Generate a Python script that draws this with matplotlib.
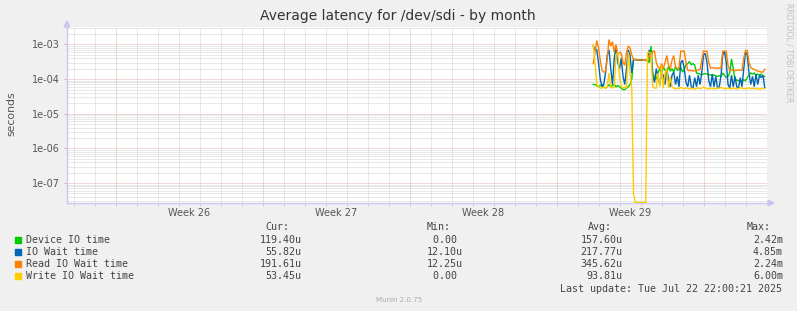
import matplotlib
matplotlib.use("Agg")
import matplotlib.pyplot as plt
from matplotlib.patches import Rectangle, Polygon
import numpy as np

# ---------------- data ----------------
# time in days from the left edge of the graph window
window_days = [0.0, 33.333]
week_starts = [2.333, 9.333, 16.333, 23.333, 30.333]
week_labels = ["Week 26", "Week 27", "Week 28", "Week 29"]
first_sample_day = 25.06
sample_step_days = 1.0 / 12.0  # 2 h consolidation

device_io = [7e-5, 7e-5, 6.5e-5, 6e-5, 6.5e-5, 7e-5, 6e-5, 5.5e-5, 6e-5, 7e-5, 6e-5, 6.5e-5,
             7e-5, 6e-5, 6.5e-5, 6e-5, 5.5e-5, 5e-5, 5e-5, 5.5e-5, 6e-5, 7e-5, 1e-4,
             3.7e-4, 3.7e-4, 3.65e-4, 3.6e-4, 3.6e-4, 3.55e-4, 3.5e-4, 3.5e-4, 3.45e-4,
             3e-4, 9e-4, 1.5e-4, 1.1e-4, 1.0e-4, 1.5e-4, 2e-4, 1.5e-4, 2.2e-4, 1.8e-4, 1.6e-4,
             2.3e-4, 1.7e-4, 2e-4, 1.6e-4, 2.3e-4, 1.8e-4, 1.9e-4, 2.2e-4, 1.6e-4, 1.9e-4,
             2.6e-4, 2.8e-4, 3.2e-4, 2.6e-4, 2.8e-4, 2.5e-4, 1.5e-4,
             1.45e-4, 1.4e-4, 1.35e-4, 1.4e-4, 1.45e-4, 1.4e-4, 1.35e-4, 1.3e-4, 1.35e-4,
             1.3e-4, 1.25e-4, 1.2e-4, 1.25e-4, 1.2e-4, 1.5e-4, 1.3e-4, 1.1e-4,
             1.2e-4, 1.5e-4, 3.8e-4, 2e-4, 9e-5, 9.5e-5, 9e-5, 8.5e-5, 9e-5, 9.5e-5, 9e-5,
             1.1e-4, 1.3e-4, 1.5e-4, 1.4e-4, 1.5e-4, 1.3e-4, 1.4e-4, 1.3e-4, 1.4e-4, 1.2e-4, 1.19e-4]

io_wait = [9e-4, 7e-4, 7e-4, 3e-4, 1e-4, 6e-5, 7e-5, 1.5e-4, 5e-4, 7e-4, 2e-4, 7e-5, 4e-4, 8e-4,
           3e-4, 2e-4, 4e-4, 1.2e-4, 7e-5, 2e-4, 7e-4, 5e-4, 1.5e-4, 3.7e-4,
           3.65e-4, 3.6e-4, 3.6e-4, 3.55e-4, 3.5e-4, 3.5e-4, 3.45e-4, 3.4e-4,
           7e-4, 5e-4, 1.2e-4, 8e-5, 2e-4, 1.2e-4, 7e-5, 1.5e-4, 1.3e-4, 7e-5, 2e-4, 1e-4,
           6e-5, 1.3e-4, 1.6e-4, 7e-5, 1.2e-4, 6e-5,
           3e-4, 3.5e-4, 2e-4, 8e-5, 6e-5, 1.3e-4, 6e-5, 5.5e-5, 1.1e-4, 6e-5, 1.3e-4, 7e-5,
           1.5e-4, 5e-4, 5.5e-4, 3e-4, 9e-5, 6e-5, 1.4e-4, 6e-5, 1.2e-4, 5.5e-5, 6e-5, 1.3e-4,
           5e-4, 6.4e-4, 3e-4, 7e-5, 5.5e-5, 1.3e-4, 6e-5, 1.2e-4, 6e-5, 5.5e-5, 1.1e-4, 6e-5,
           2e-4, 6e-4, 5e-4, 1.5e-4, 7e-5, 1.2e-4, 6e-5, 1.4e-4, 7e-5, 1.3e-4, 1.1e-4, 1.3e-4, 5.6e-5]

read_io_wait = [2.8e-4, 6e-4, 1.3e-3, 8e-4, 3.5e-4, 1.8e-4, 1.6e-4, 1.6e-4, 4e-4, 1.4e-3, 9e-4,
                1.2e-3, 6e-4, 1e-3, 5e-4, 6e-4, 5.5e-4, 3e-4, 2.5e-4, 6e-4, 9e-4, 8e-4, 5e-4, 3.7e-4,
                3.7e-4, 3.65e-4, 3.6e-4, 3.6e-4, 3.55e-4, 3.5e-4, 3.5e-4, 3.45e-4,
                5e-4, 4e-4, 6.4e-4, 6.4e-4, 3e-4, 2.2e-4, 2e-4, 2.8e-4, 2e-4, 3e-4, 4.8e-4, 2.5e-4,
                2e-4, 3.5e-4, 4.8e-4, 2.2e-4, 2e-4, 2.2e-4,
                6.4e-4, 6.4e-4, 6.4e-4, 3e-4, 1.8e-4, 1.75e-4, 1.8e-4, 1.7e-4, 1.75e-4, 1.8e-4,
                1.85e-4, 1.9e-4, 3.5e-4, 6.4e-4, 6.4e-4, 6.4e-4, 3e-4, 2.1e-4, 2.15e-4, 2.1e-4,
                2.1e-4, 2.05e-4, 2.1e-4, 2.15e-4,
                6.4e-4, 6.4e-4, 6.4e-4, 2.5e-4, 1.8e-4, 1.85e-4, 1.8e-4, 1.75e-4, 1.8e-4, 1.85e-4,
                1.8e-4, 1.8e-4, 4e-4, 6.7e-4, 6.7e-4, 3e-4, 2.2e-4, 2e-4, 1.9e-4, 1.8e-4, 1.7e-4,
                1.65e-4, 1.6e-4, 1.6e-4, 1.92e-4]

write_io_wait = [1e-3, 3e-4, 7e-5, 6e-5, 5.5e-5, 5.5e-5, 6e-5, 5.5e-5, 6e-5, 1.5e-4, 6e-5, 5.5e-5,
                 6e-5, 5e-4, 6e-4, 1.2e-4, 6e-5, 5.5e-5, 6e-5, 5.5e-5, 6e-4, 1.5e-4, 5.5e-5,
                 5e-8, 0, 0, 0, 0, 0, 0, 0,
                 6e-4, 6e-4, 5.5e-4, 6e-5, 5.5e-5, 5.5e-5, 1.5e-4, 6e-5, 2.5e-4, 5.5e-5, 1.5e-4,
                 2e-4, 5.5e-5, 1.2e-4, 6e-5, 5.5e-5, 5.2e-5,
                 5.5e-5, 5.3e-5, 5.8e-5, 5.5e-5, 5.2e-5, 5.6e-5, 5.4e-5, 5.2e-5, 5.5e-5, 5.3e-5,
                 5.1e-5, 5.4e-5, 5.6e-5, 5.3e-5, 5.5e-5, 6e-5, 5.6e-5, 5.3e-5, 5.2e-5, 5.4e-5,
                 5.5e-5, 5.2e-5, 5.3e-5, 5.6e-5, 5.4e-5, 5.8e-5, 5.5e-5, 5.2e-5, 5.3e-5, 5.5e-5,
                 5.4e-5, 5.2e-5, 5.6e-5, 5.3e-5, 5.1e-5, 5.4e-5, 5.7e-5, 5.5e-5, 5.3e-5, 5.2e-5,
                 5.4e-5, 5.6e-5, 5.3e-5, 5.5e-5, 5.2e-5, 5.4e-5, 5.3e-5, 5.1e-5, 5.3e-5, 5.4e-5, 5.345e-5]

series_names = ["Device IO time", "IO Wait time", "Read IO Wait time", "Write IO Wait time"]
series_colors = ["#00CC00", "#0066B3", "#FF8000", "#FFCC00"]
cur_vals = ["119.40u", "55.82u", "191.61u", "53.45u"]
min_vals = ["0.00 ", "12.10u", "12.25u", "0.00 "]
avg_vals = ["157.60u", "217.77u", "345.62u", "93.81u"]
max_vals = ["2.42m", "4.85m", "2.24m", "6.00m"]
ytick_vals = [1e-7, 1e-6, 1e-5, 1e-4, 1e-3]
ytick_labels = ["1e-07", "1e-06", "1e-05", "1e-04", "1e-03"]
title = "Average latency for /dev/sdi - by month"
last_update = "Last update: Tue Jul 22 22:00:21 2025"

# ---------------- figure ----------------
W, H = 797, 311
plt.rcParams["font.family"] = ["DejaVu Sans"]
fig = plt.figure(figsize=(W / 100, H / 100), dpi=100, facecolor="#F0F0F0")

L, R, T, B = 67, 767, 27, 203
YMIN, YMAX = 2.65e-8, 3.2e-3
ax = fig.add_axes([L / W, 1 - B / H, (R - L) / W, (B - T) / H])
ax.set_facecolor("white")
ax.set_yscale("log", nonpositive="clip")
ax.set_ylim(YMIN, YMAX)
ax.set_xlim(window_days[0], window_days[1])

DOT = (0, (1, 1))
minor_c = "#d2d2d2"
major_c = "#e9b2b2"
# horizontal grid
for dec in range(-8, -2):
    for m in range(2, 10):
        v = m * 10.0 ** dec
        if YMIN < v < YMAX:
            ax.axhline(v, color=minor_c, lw=0.72, ls=DOT, zorder=1)
for v in ytick_vals:
    ax.axhline(v, color=major_c, lw=0.72, ls=DOT, zorder=1.1)
# vertical grid (days / weeks)
d = week_starts[0] - np.floor(week_starts[0])
days = np.arange(d, window_days[1], 1.0)
for x in days:
    if not any(abs(x - w) < 1e-6 for w in week_starts):
        ax.axvline(x, color=minor_c, lw=0.72, ls=DOT, zorder=1)
for w in week_starts:
    ax.axvline(w, color=major_c, lw=0.72, ls=DOT, zorder=1.1)

# series (zero values are drawn on the bottom edge, as rrdtool does)
n = len(device_io)
t = first_sample_day + sample_step_days * np.arange(n)
for vals, col in zip([device_io, io_wait, read_io_wait, write_io_wait], series_colors):
    y = np.clip(np.array(vals, dtype=float), YMIN * 1.04, None)
    ax.plot(t, y, color=col, lw=1.0, zorder=3, solid_joinstyle="miter")

# axes styling
for s in ["top", "right"]:
    ax.spines[s].set_visible(False)
for s in ["left", "bottom"]:
    ax.spines[s].set_color("#c8c8f0")
    ax.spines[s].set_linewidth(1.0)
ax.set_yticks(ytick_vals)
ax.set_yticklabels(ytick_labels)
ax.yaxis.set_minor_locator(matplotlib.ticker.NullLocator())
ax.tick_params(axis="y", which="major", length=2, color=major_c, labelsize=7,
               labelcolor="#555555", pad=3)
centers = [w + 3.5 for w in week_starts[:len(week_labels)]]
ax.set_xticks(centers)
ax.set_xticklabels(week_labels)
ax.set_xticks(days, minor=True)
ax.tick_params(axis="x", which="major", length=0, labelsize=7, labelcolor="#555555", pad=3.5)
ax.tick_params(axis="x", which="minor", length=2, color="#c8c8c8")

# axis arrows
def fx(x):
    return x / W
def fy(y):
    return 1 - y / H
ac = "#c8c8f0"
fig.patches.append(Polygon([[fx(64), fy(27)], [fx(70), fy(27)], [fx(67), fy(21)]],
                           closed=True, transform=fig.transFigure, color=ac))
fig.patches.append(Polygon([[fx(768), fy(200)], [fx(768), fy(206)], [fx(774), fy(203)]],
                           closed=True, transform=fig.transFigure, color=ac))

# texts
fig.text(fx(398), fy(16), title, ha="center", va="center", fontsize=10, color="#333333")
fig.text(fx(11), fy(114), "seconds", ha="center", va="center", rotation=90, fontsize=7.8,
         color="#555555")
fig.text(fx(789), fy(53), "RRDTOOL / TOBI OETIKER", ha="center", va="center", rotation=270,
         fontsize=5.6, color="#c0c0c0")
fig.text(fx(399), fy(299.5), "Munin 2.0.75", ha="center", va="center", fontsize=5,
         color="#aaaaaa")

MONO = "DejaVu Sans Mono"
FS = 7.2
cw = FS * 100 / 72 * 0.602
tc = "#444444"

def mono(xr, y, s):
    fig.text(fx(xr - len(s) * cw), fy(y), s, ha="left", va="center", family=MONO,
             fontsize=FS, color=tc)

for hx, h in zip([265.7, 426.7, 588, 746.7], ["Cur:", "Min:", "Avg:", "Max:"]):
    fig.text(fx(hx), fy(227.5), h, ha="left", va="center", family=MONO, fontsize=FS, color=tc)

row_y = [239.7, 251.8, 263.7, 275.7]
for i in range(4):
    y = row_y[i]
    fig.patches.append(Rectangle((fx(15), fy(y + 3)), 6 / W, 6 / H, transform=fig.transFigure,
                                 color=series_colors[i]))
    fig.text(fx(26.5), fy(y), series_names[i], ha="left", va="center", family=MONO,
             fontsize=FS, color=tc)
    mono(301.8, y, cur_vals[i])
    mono(462.8, y, min_vals[i])
    mono(622.8, y, avg_vals[i])
    mono(783, y, max_vals[i])
mono(783, 288.5, last_update)

fig.savefig("out.png", dpi=100, facecolor=fig.get_facecolor())
